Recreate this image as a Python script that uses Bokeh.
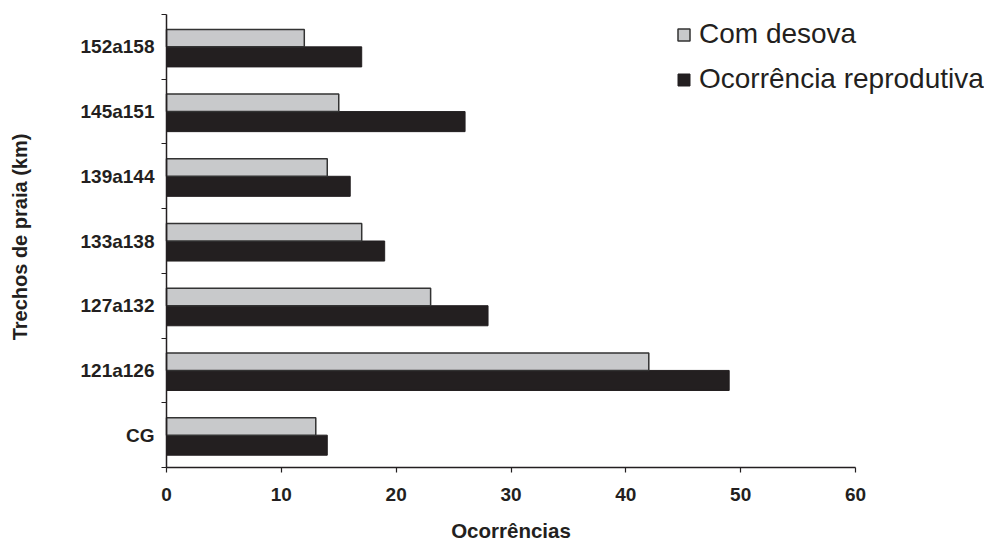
import math
from bokeh.plotting import figure
from bokeh.models import Range1d, FixedTicker, Legend, LegendItem, ColumnDataSource, Label
from bokeh.embed import file_html
from bokeh.resources import INLINE

categories = ["CG", "121a126", "127a132", "133a138", "139a144", "145a151", "152a158"]
com_desova = [13, 42, 23, 17, 14, 15, 12]
ocorrencia_reprodutiva = [14, 49, 28, 19, 16, 26, 17]
x_ticks = [0, 10, 20, 30, 40, 50, 60]

FONT = "Liberation Sans"
TXT = "#231f20"

# page layout (pixels): where the 0..60 / 0..n axes sit on the canvas
W, H = 984, 542
AX_LEFT, AX_RIGHT, AX_TOP, AX_BOTTOM = 166, 855, 14, 467
n = len(categories)
x_min, x_max = x_ticks[0], x_ticks[-1]
ppx = (AX_RIGHT - AX_LEFT) / (x_max - x_min)
ppy = (AX_BOTTOM - AX_TOP) / n
x_range = Range1d(x_min - AX_LEFT / ppx, x_max + (W - AX_RIGHT) / ppx)
y_range = Range1d(0 - (H - AX_BOTTOM) / ppy, n + AX_TOP / ppy)

centers = [i + 0.5 for i in range(n)]

src_grey = ColumnDataSource(dict(y=[c + 0.135 for c in centers], v=com_desova))
src_black = ColumnDataSource(dict(y=[c - 0.155 for c in centers], v=ocorrencia_reprodutiva))

p = figure(width=W, height=H, output_backend="svg", toolbar_location=None,
           x_range=x_range, y_range=y_range,
           min_border_left=0, min_border_right=0, min_border_top=0, min_border_bottom=0)
p.outline_line_color = None
p.xgrid.visible = False
p.ygrid.visible = False
p.background_fill_color = "white"
p.border_fill_color = "white"

r_black = p.hbar(y="y", left=0, right="v", height=0.31, source=src_black,
                 fill_color="#231f20", line_color="#231f20", line_width=1)
r_grey = p.hbar(y="y", left=0, right="v", height=0.27, source=src_grey,
                fill_color="#c8c9cb", line_color="#333333", line_width=1.5)

# x axis (drawn at y = 0 inside the canvas)
p.xaxis.fixed_location = 0
p.xaxis.bounds = (x_min, x_max)
p.xaxis.ticker = FixedTicker(ticks=x_ticks)
p.xaxis.major_label_text_font = FONT
p.xaxis.major_label_text_font_style = "bold"
p.xaxis.major_label_text_font_size = "19px"
p.xaxis.major_label_text_color = TXT
p.xaxis.major_label_standoff = 15
p.xaxis.major_tick_out = 5
p.xaxis.major_tick_in = 0
p.xaxis.minor_tick_out = 0
p.xaxis.minor_tick_in = 0
p.xaxis.axis_line_color = "#231f20"
p.xaxis.axis_line_width = 1.5
p.xaxis.major_tick_line_color = "#231f20"
p.xaxis.major_tick_line_width = 1.2

# y axis (drawn at x = 0)
p.yaxis.fixed_location = 0
p.yaxis.bounds = (0, n)
p.yaxis.ticker = FixedTicker(ticks=centers, minor_ticks=list(range(n + 1)))
p.yaxis.major_label_overrides = {c: lab for c, lab in zip(centers, categories)}
p.yaxis.major_label_text_font = FONT
p.yaxis.major_label_text_font_style = "bold"
p.yaxis.major_label_text_font_size = "19px"
p.yaxis.major_label_text_color = TXT
p.yaxis.major_label_standoff = 7
p.yaxis.major_tick_out = 0
p.yaxis.major_tick_in = 0
p.yaxis.minor_tick_out = 5
p.yaxis.minor_tick_in = 0
p.yaxis.minor_tick_line_color = "#231f20"
p.yaxis.minor_tick_line_width = 1.2
p.yaxis.axis_line_color = "#231f20"
p.yaxis.axis_line_width = 1.5

# axis titles
p.add_layout(Label(x=(x_min + x_max) / 2, y=12, x_units="data", y_units="screen",
                   text="Ocorrências", text_align="center", text_baseline="alphabetic",
                   text_font=FONT, text_font_style="bold", text_font_size="20.5px",
                   text_color=TXT))
p.add_layout(Label(x=19, y=H - 236.5, x_units="screen", y_units="screen", angle=math.pi / 2,
                   text="Trechos de praia (km)", text_align="center", text_baseline="alphabetic",
                   text_font=FONT, text_font_style="bold", text_font_size="20px",
                   text_color=TXT))

legend = Legend(items=[LegendItem(label="Com desova", renderers=[r_grey]),
                       LegendItem(label="Ocorrência reprodutiva", renderers=[r_black])],
                location=(676, 447))
legend.label_text_font = FONT
legend.label_text_font_size = "28px"
legend.label_text_color = TXT
legend.glyph_width = 15
legend.glyph_height = 15
legend.label_height = 30
legend.spacing = 13
legend.label_standoff = 8
legend.padding = 0
legend.margin = 0
legend.border_line_color = None
legend.background_fill_alpha = 0
p.add_layout(legend, "center")

open("out.html", "w").write(file_html(p, INLINE))
